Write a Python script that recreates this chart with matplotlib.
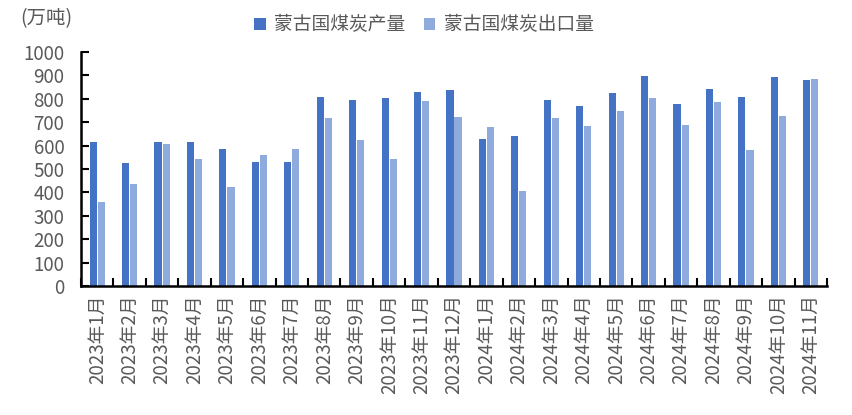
import matplotlib
matplotlib.use("Agg")
import matplotlib.pyplot as plt
import numpy as np
from matplotlib.ticker import FixedLocator, FixedFormatter

plt.rcParams['font.family'] = ['Noto Sans CJK SC', 'DejaVu Sans']

categories = ["2023年1月", "2023年2月", "2023年3月", "2023年4月", "2023年5月", "2023年6月",
              "2023年7月", "2023年8月", "2023年9月", "2023年10月", "2023年11月", "2023年12月",
              "2024年1月", "2024年2月", "2024年3月", "2024年4月", "2024年5月", "2024年6月",
              "2024年7月", "2024年8月", "2024年9月", "2024年10月", "2024年11月"]
production = [615, 526, 615, 615, 585, 530, 530, 808, 795, 803, 829, 838,
              628, 641, 795, 769, 825, 897, 778, 842, 808, 893, 880]
exports = [359, 437, 607, 543, 423, 560, 585, 718, 624, 543, 791, 722,
           679, 406, 718, 684, 748, 803, 688, 786, 581, 726, 885]
series_names = ["蒙古国煤炭产量", "蒙古国煤炭出口量"]
yticks = [0, 100, 200, 300, 400, 500, 600, 700, 800, 900, 1000]

c1 = "#4472C4"
c2 = "#8FAADC"
gray = "#595959"
fs = 13.5

fig = plt.figure(figsize=(8.53, 4.15), dpi=100)
ax = fig.add_axes([81/853, 1-286/415, (827-81)/853, (286-52)/415])

x = np.arange(len(categories))
w = 0.22
gap = 0.03
ax.bar(x - (w+gap)/2, production, width=w, color=c1, label=series_names[0])
ax.bar(x + (w+gap)/2, exports, width=w, color=c2, label=series_names[1])

ax.set_xlim(-0.5, len(categories)-0.5)
ax.set_ylim(0, 1000)
ax.set_yticks(yticks)
ax.set_yticklabels([str(v) for v in yticks])

ax.xaxis.set_major_locator(FixedLocator(x))
ax.xaxis.set_major_formatter(FixedFormatter(categories))
ax.xaxis.set_minor_locator(FixedLocator(np.arange(len(categories)+1) - 0.5))
ax.tick_params(axis='x', which='major', length=0, labelrotation=90, labelsize=fs,
               labelcolor=gray, pad=6)
ax.tick_params(axis='x', which='minor', length=6, width=1.5, direction='in', color='black')
ax.tick_params(axis='y', which='major', length=6, width=1.5, direction='in', color='black',
               labelsize=fs, labelcolor=gray, pad=12)

for s in ['top', 'right']:
    ax.spines[s].set_visible(False)
for s in ['left', 'bottom']:
    ax.spines[s].set_linewidth(1.8)
    ax.spines[s].set_color('black')

fig.text(20/853, 1-19/415, "(万吨)", fontsize=14, color=gray, va='center', ha='left')

leg = fig.legend(loc='center', bbox_to_anchor=(424/853, 1-25/415), ncol=2, frameon=False,
                 fontsize=fs, handlelength=0.6, handleheight=0.6, handletextpad=0.45,
                 columnspacing=1.0, labelcolor=gray)

fig.savefig("out.png", dpi=100)
